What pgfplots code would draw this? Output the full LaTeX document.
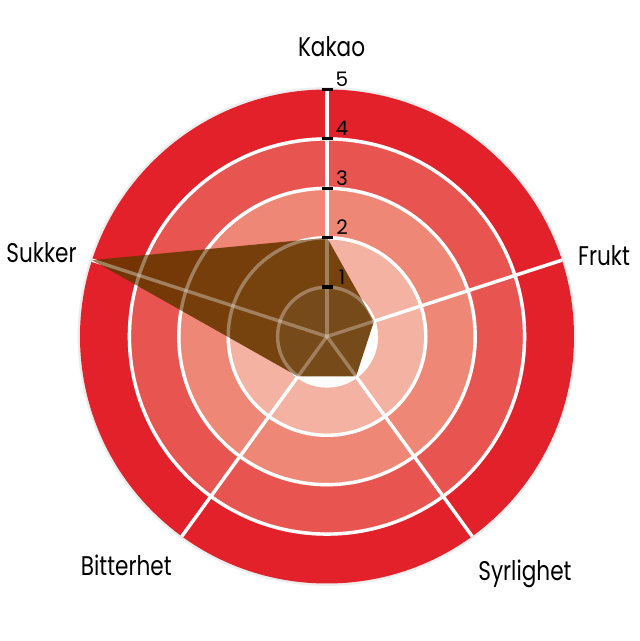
\documentclass[border=0pt]{standalone}
\usepackage{pgfplots}
\pgfplotsset{compat=1.18}
\usepgfplotslibrary{polar}
\usetikzlibrary{calc}
\usepackage{fontspec}
\setmainfont{Poppins}
\newfontfamily\labelfont{Poppins}[FakeStretch=0.8]

\definecolor{ring5}{HTML}{E3212B}
\definecolor{ring4}{HTML}{E85450}
\definecolor{ring3}{HTML}{EE8775}
\definecolor{ring2}{HTML}{F4B2A3}
\definecolor{taste}{HTML}{693700}

% circle of radius r (data units) around the centre
\newcommand\ring[2]{\path[#1] let \p1=($(axis cs:0,#2)-(axis cs:0,0)$),
  \n1={veclen(\x1,\y1)} in (axis cs:0,0) circle[radius=\n1];}
\newcommand\webgrid[1]{%
  \pgfplotsinvokeforeach{1,2,3,4}{\ring{draw=white,line width=1.7pt,#1}{##1}}
  \pgfplotsinvokeforeach{90,18,-54,-126,162}{%
    \draw[white,line width=1.7pt,#1] (axis cs:0,0) -- (axis cs:##1,5);}}

\begin{document}
\begin{tikzpicture}
\begin{polaraxis}[
  hide axis, clip=false,
  ymin=0, ymax=5,
  scale only axis, width=247pt, height=247pt,
]
\coordinate (c) at (axis cs:0,0);
\ring{draw=black!7,line width=2.4pt}{5}
\ring{fill=ring5}{5}
\ring{fill=ring4}{4}
\ring{fill=ring3}{3}
\ring{fill=ring2}{2}
\ring{fill=white}{1}
\webgrid{}

% Kakao, Frukt, Syrlighet, Bitterhet, Sukker
\addplot[draw=none, fill=taste, fill opacity=0.9]
  coordinates {(90,2) (18,1) (-54,1) (-126,1) (162,5) (90,2)};

\webgrid{opacity=0.3}

\pgfplotsinvokeforeach{1,2,3,4,5}{%
  \draw[black,line width=1.6pt] ([xshift=-2.75pt]axis cs:90,#1) -- ([xshift=2.75pt]axis cs:90,#1);
  \node[font=\fontsize{10}{12}\selectfont, inner sep=0pt] at ([shift={(7.5pt,5.1pt)}]axis cs:90,#1) {#1};}

\begin{scope}[every node/.style={font=\labelfont\fontsize{13.5}{16}\selectfont, inner sep=0pt}]
\node at (axis cs:89.1,5.86) {Kakao};
\node at (axis cs:16.2,5.84) {Frukt};
\node at (axis cs:-50.2,6.26) {Syrlighet};
\node at (axis cs:228.8,6.17) {Bitterhet};
\node at (axis cs:163.7,6.02) {Sukker};
\end{scope}
\end{polaraxis}
\pgfresetboundingbox
\path ([shift={(-163.5pt,-152.25pt)}]c) rectangle ([shift={(156.5pt,168.25pt)}]c);
\end{tikzpicture}
\end{document}
